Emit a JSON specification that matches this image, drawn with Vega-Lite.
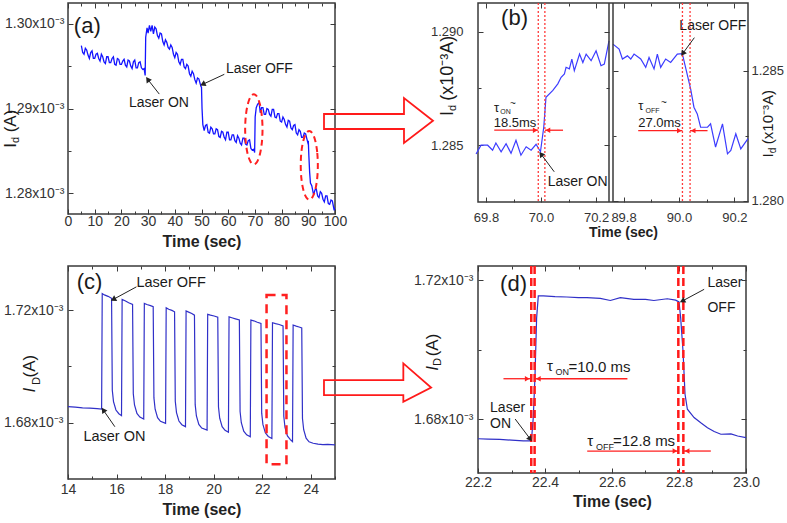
{
"$schema": "https://vega.github.io/schema/vega-lite/v6.json",
"padding": 0,
"background": "white",
"config": {
  "view": {"stroke": "#3a3a3a", "strokeWidth": 1.5},
  "axis": {"domain": false, "grid": false, "labelFont": "Liberation Sans", "labelFontSize": 14, "labelColor": "#333333", "titleFont": "Liberation Sans", "titleFontSize": 16, "titleFontWeight": "bold", "titleColor": "#222222", "tickColor": "#3a3a3a", "tickWidth": 1, "labelFlush": false, "labelOverlap": false},
  "text": {"font": "Liberation Sans"}
},
"datasets": {
  "A": [{"t":5,"v":1.2974},{"t":5.5,"v":1.2966},{"t":6,"v":1.2964},{"t":6.5,"v":1.2971},{"t":7,"v":1.2969},{"t":7.5,"v":1.2963},{"t":8,"v":1.2959},{"t":8.5,"v":1.2966},{"t":9,"v":1.2968},{"t":9.5,"v":1.2959},{"t":10,"v":1.2959},{"t":10.5,"v":1.2964},{"t":11,"v":1.2965},{"t":11.5,"v":1.2959},{"t":12,"v":1.2956},{"t":12.5,"v":1.2964},{"t":13,"v":1.2961},{"t":13.5,"v":1.2955},{"t":14,"v":1.2953},{"t":14.5,"v":1.2961},{"t":15,"v":1.2961},{"t":15.5,"v":1.2954},{"t":16,"v":1.2954},{"t":16.5,"v":1.2959},{"t":17,"v":1.2961},{"t":17.5,"v":1.2952},{"t":18,"v":1.2951},{"t":18.5,"v":1.2959},{"t":19,"v":1.2958},{"t":19.5,"v":1.2952},{"t":20,"v":1.2952},{"t":20.5,"v":1.2956},{"t":21,"v":1.2958},{"t":21.5,"v":1.2951},{"t":22,"v":1.2949},{"t":22.5,"v":1.2957},{"t":23,"v":1.2956},{"t":23.5,"v":1.295},{"t":24,"v":1.2947},{"t":24.5,"v":1.2955},{"t":25,"v":1.2957},{"t":25.5,"v":1.2948},{"t":26,"v":1.2948},{"t":26.5,"v":1.2954},{"t":27,"v":1.2955},{"t":27.5,"v":1.2948},{"t":28,"v":1.2946},{"t":28.5,"v":1.2947},{"t":28.9,"v":1.2939},{"t":29.1,"v":1.2984},{"t":29.6,"v":1.2995},{"t":30,"v":1.2989},{"t":30.5,"v":1.2998},{"t":31,"v":1.2991},{"t":31.5,"v":1.2998},{"t":32,"v":1.2988},{"t":32.5,"v":1.2996},{"t":33,"v":1.2994},{"t":33.5,"v":1.2986},{"t":34,"v":1.2983},{"t":34.5,"v":1.2989},{"t":35,"v":1.2988},{"t":35.5,"v":1.2979},{"t":36,"v":1.2975},{"t":36.5,"v":1.2981},{"t":37,"v":1.2978},{"t":37.5,"v":1.2972},{"t":38,"v":1.297},{"t":38.5,"v":1.2975},{"t":39,"v":1.2972},{"t":39.5,"v":1.2964},{"t":40,"v":1.296},{"t":40.5,"v":1.2966},{"t":41,"v":1.2964},{"t":41.5,"v":1.2955},{"t":42,"v":1.2952},{"t":42.5,"v":1.2958},{"t":43,"v":1.2958},{"t":43.5,"v":1.2949},{"t":44,"v":1.2947},{"t":44.5,"v":1.2952},{"t":45,"v":1.295},{"t":45.5,"v":1.2941},{"t":46,"v":1.2938},{"t":46.5,"v":1.2944},{"t":47,"v":1.2941},{"t":47.5,"v":1.2934},{"t":48,"v":1.293},{"t":48.5,"v":1.2936},{"t":49,"v":1.2935},{"t":49.8,"v":1.2926},{"t":50.0,"v":1.2925},{"t":50.2,"v":1.29},{"t":50.5,"v":1.2881},{"t":51,"v":1.2874},{"t":51.5,"v":1.288},{"t":52,"v":1.2881},{"t":52.5,"v":1.2872},{"t":53,"v":1.2871},{"t":53.5,"v":1.2878},{"t":54,"v":1.2876},{"t":54.5,"v":1.287},{"t":55,"v":1.287},{"t":55.5,"v":1.2876},{"t":56,"v":1.2875},{"t":56.5,"v":1.2867},{"t":57,"v":1.2866},{"t":57.5,"v":1.2873},{"t":58,"v":1.2872},{"t":58.5,"v":1.2866},{"t":59,"v":1.2863},{"t":59.5,"v":1.2872},{"t":60,"v":1.2872},{"t":60.5,"v":1.2863},{"t":61,"v":1.2863},{"t":61.5,"v":1.2869},{"t":62,"v":1.2869},{"t":62.5,"v":1.2862},{"t":63,"v":1.286},{"t":63.5,"v":1.2868},{"t":64,"v":1.2865},{"t":64.5,"v":1.2859},{"t":65,"v":1.2857},{"t":65.5,"v":1.2865},{"t":66,"v":1.2865},{"t":66.5,"v":1.2858},{"t":67,"v":1.2857},{"t":67.5,"v":1.2862},{"t":68,"v":1.2863},{"t":68.5,"v":1.2853},{"t":69,"v":1.2851},{"t":69.6,"v":1.2852},{"t":69.9,"v":1.2848},{"t":70.1,"v":1.289},{"t":70.5,"v":1.2901},{"t":71.0,"v":1.2905},{"t":71.6,"v":1.2907},{"t":72,"v":1.2895},{"t":72.5,"v":1.2901},{"t":73,"v":1.2901},{"t":73.5,"v":1.2893},{"t":74,"v":1.2893},{"t":74.5,"v":1.29},{"t":75,"v":1.2899},{"t":75.5,"v":1.2893},{"t":76,"v":1.2891},{"t":76.5,"v":1.2899},{"t":77,"v":1.2899},{"t":77.5,"v":1.289},{"t":78,"v":1.2889},{"t":78.5,"v":1.2894},{"t":79,"v":1.2894},{"t":79.5,"v":1.2885},{"t":80,"v":1.2884},{"t":80.5,"v":1.289},{"t":81,"v":1.2887},{"t":81.5,"v":1.2881},{"t":82,"v":1.2878},{"t":82.5,"v":1.2886},{"t":83,"v":1.2885},{"t":83.5,"v":1.2877},{"t":84,"v":1.2875},{"t":84.5,"v":1.288},{"t":85,"v":1.2881},{"t":85.5,"v":1.2871},{"t":86,"v":1.2869},{"t":86.5,"v":1.2875},{"t":87,"v":1.2873},{"t":87.5,"v":1.2866},{"t":88,"v":1.2866},{"t":88.5,"v":1.2871},{"t":89,"v":1.287},{"t":89.8,"v":1.286},{"t":90.0,"v":1.2862},{"t":90.2,"v":1.2845},{"t":90.5,"v":1.2825},{"t":90.8,"v":1.2812},{"t":91.3,"v":1.2809},{"t":92,"v":1.2798},{"t":92.5,"v":1.2804},{"t":93,"v":1.2805},{"t":93.5,"v":1.2797},{"t":94,"v":1.2795},{"t":94.5,"v":1.2802},{"t":95,"v":1.28},{"t":95.5,"v":1.2793},{"t":96,"v":1.279},{"t":96.5,"v":1.2797},{"t":97,"v":1.2797},{"t":97.5,"v":1.2788},{"t":98,"v":1.2787},{"t":98.5,"v":1.2792},{"t":99,"v":1.2791},{"t":99.7,"v":1.278},{"t":100,"v":1.2783}],
  "A_txt": [{"t":2.2,"v":1.29973,"label":"(a)","fs":22},{"t":22.85,"v":1.29068,"label":"Laser ON","fs":14},{"t":59.18,"v":1.29462,"label":"Laser OFF","fs":14}],
  "A_arr": [{"t":34.19,"v":1.2917,"t2":29.85,"v2":1.29344,"ang":325.2},{"t":58.54,"v":1.29403,"t2":50.45,"v2":1.29285,"ang":245.2}],
  "A_ttl": [{"t":-21.35,"v":1.28853,"label":"(A)","fs":17},{"t":-19.48,"v":1.28629,"label":"d","fs":11},{"t":-21.35,"v":1.28565,"label":"I","fs":17}],
  "A_ell": [{"id":1,"k":0,"t":72.85,"v":1.28755},{"id":1,"k":1,"t":72.6,"v":1.28913},{"id":1,"k":2,"t":71.9,"v":1.29047},{"id":1,"k":3,"t":70.85,"v":1.29137},{"id":1,"k":4,"t":69.6,"v":1.29168},{"id":1,"k":5,"t":68.36,"v":1.29137},{"id":1,"k":6,"t":67.3,"v":1.29047},{"id":1,"k":7,"t":66.6,"v":1.28913},{"id":1,"k":8,"t":66.35,"v":1.28755},{"id":1,"k":9,"t":66.6,"v":1.28597},{"id":1,"k":10,"t":67.3,"v":1.28463},{"id":1,"k":11,"t":68.36,"v":1.28373},{"id":1,"k":12,"t":69.6,"v":1.28342},{"id":1,"k":13,"t":70.85,"v":1.28373},{"id":1,"k":14,"t":71.9,"v":1.28463},{"id":1,"k":15,"t":72.6,"v":1.28597},
    {"id":2,"k":0,"t":93.57,"v":1.28331},{"id":2,"k":1,"t":93.33,"v":1.28486},{"id":2,"k":2,"t":92.63,"v":1.28617},{"id":2,"k":3,"t":91.6,"v":1.28705},{"id":2,"k":4,"t":90.37,"v":1.28736},{"id":2,"k":5,"t":89.14,"v":1.28705},{"id":2,"k":6,"t":88.11,"v":1.28617},{"id":2,"k":7,"t":87.41,"v":1.28486},{"id":2,"k":8,"t":87.17,"v":1.28331},{"id":2,"k":9,"t":87.41,"v":1.28176},{"id":2,"k":10,"t":88.11,"v":1.28045},{"id":2,"k":11,"t":89.14,"v":1.27957},{"id":2,"k":12,"t":90.37,"v":1.27926},{"id":2,"k":13,"t":91.6,"v":1.27957},{"id":2,"k":14,"t":92.63,"v":1.28045},{"id":2,"k":15,"t":93.33,"v":1.28176}],
  "A_big": [{"k":0,"t":95.88,"v":1.28935},{"k":1,"t":125.84,"v":1.28935},{"k":2,"t":125.84,"v":1.29124},{"k":3,"t":136.7,"v":1.28855},{"k":4,"t":125.84,"v":1.28593},{"k":5,"t":125.84,"v":1.28758},{"k":6,"t":95.88,"v":1.28758}],
  "BL": [{"t":69.764,"v":1.28461},{"t":69.782,"v":1.285},{"t":69.806,"v":1.285},{"t":69.824,"v":1.28478},{"t":69.836,"v":1.2851},{"t":69.855,"v":1.28471},{"t":69.873,"v":1.28507},{"t":69.891,"v":1.28464},{"t":69.909,"v":1.28522},{"t":69.927,"v":1.28456},{"t":69.946,"v":1.28493},{"t":69.964,"v":1.28478},{"t":69.982,"v":1.28504},{"t":69.998,"v":1.28471},{"t":70.01,"v":1.2858},{"t":70.018,"v":1.28711},{"t":70.043,"v":1.28741},{"t":70.061,"v":1.2877},{"t":70.073,"v":1.28799},{"t":70.085,"v":1.28814},{"t":70.091,"v":1.28843},{"t":70.103,"v":1.28836},{"t":70.112,"v":1.28879},{"t":70.121,"v":1.28828},{"t":70.14,"v":1.28901},{"t":70.152,"v":1.28864},{"t":70.164,"v":1.28901},{"t":70.182,"v":1.28872},{"t":70.2,"v":1.28916},{"t":70.218,"v":1.2885},{"t":70.23,"v":1.28857},{"t":70.247,"v":1.28959}],
  "BL_txt": [{"t":69.855,"v":1.29061,"label":"(b)","fs":22},{"t":70.024,"v":1.2834,"label":"Laser ON","fs":14},{"t":69.829,"v":1.28664,"label":"τ","fs":13},{"t":69.852,"v":1.28645,"label":"ON","fs":7},{"t":69.887,"v":1.28683,"label":"~","fs":10},{"t":69.828,"v":1.28596,"label":"18.5ms","fs":13}],
  "BL_ttl": [{"t":69.661,"v":1.28839,"label":"(x10⁻³A)","fs":18},{"t":69.661,"v":1.2864,"label":"I","fs":18},{"t":69.68,"v":1.28664,"label":"d","fs":11}],
  "BL_arr": [{"t":70.048,"v":1.28383,"t2":70.0,"v2":1.28461,"ang":323.1}],
  "BL_red": [{"t":69.83,"t2":69.99,"v":1.28566},{"t":70.08,"t2":70.014,"v":1.28566}],
  "BL_tri": [{"t":69.979,"v":1.28566,"sh":"triangle-right"},{"t":70.025,"v":1.28566,"sh":"triangle-left"}],
  "BL_vl": [{"t":69.99},{"t":70.014}],
  "BR": [{"t":89.762,"v":1.28602},{"t":89.784,"v":1.28583},{"t":89.796,"v":1.28545},{"t":89.814,"v":1.28557},{"t":89.826,"v":1.28545},{"t":89.838,"v":1.28564},{"t":89.862,"v":1.28545},{"t":89.88,"v":1.28513},{"t":89.892,"v":1.28551},{"t":89.91,"v":1.28507},{"t":89.922,"v":1.28564},{"t":89.934,"v":1.28513},{"t":89.952,"v":1.28545},{"t":89.97,"v":1.28532},{"t":89.994,"v":1.28564},{"t":90.012,"v":1.28566},{"t":90.042,"v":1.2843},{"t":90.054,"v":1.2836},{"t":90.066,"v":1.28334},{"t":90.078,"v":1.28283},{"t":90.103,"v":1.28283},{"t":90.114,"v":1.28296},{"t":90.132,"v":1.28207},{"t":90.157,"v":1.28296},{"t":90.175,"v":1.28181},{"t":90.187,"v":1.28194},{"t":90.205,"v":1.28258},{"t":90.223,"v":1.282},{"t":90.249,"v":1.28239}],
  "BR_txt": [{"t":90.0014,"v":1.28672,"label":"Laser OFF","fs":14},{"t":89.853,"v":1.28363,"label":"τ","fs":13},{"t":89.879,"v":1.28347,"label":"OFF","fs":7},{"t":89.935,"v":1.28378,"label":"~","fs":10},{"t":89.853,"v":1.283,"label":"27.0ms","fs":13}],
  "BR_ttl": [{"t":90.3216,"v":1.28322,"label":"(x10⁻³A)","fs":15},{"t":90.3216,"v":1.28175,"label":"I","fs":15},{"t":90.34,"v":1.28194,"label":"d","fs":10}],
  "BR_arr": [{"t":90.0555,"v":1.28627,"t2":90.0136,"v2":1.28566,"ang":216}],
  "BR_red": [{"t":89.853,"t2":90.0125,"v":1.2827},{"t":90.103,"t2":90.04,"v":1.2827}],
  "BR_tri": [{"t":90.0015,"v":1.2827,"sh":"triangle-right"},{"t":90.051,"v":1.2827,"sh":"triangle-left"}],
  "BR_vl": [{"t":90.0125},{"t":90.04}],
  "C": [{"t":14.0,"v":1.6857},{"t":14.3,"v":1.6855},{"t":14.6,"v":1.6853},{"t":14.9,"v":1.6852},{"t":15.2,"v":1.685},{"t":15.385,"v":1.6848},
    {"t":15.41,"v":1.7259},{"t":15.5,"v":1.7254},{"t":15.65,"v":1.7249},{"t":15.795,"v":1.7242},{"t":15.825,"v":1.6915},{"t":15.875,"v":1.6875},{"t":15.975,"v":1.6845},{"t":16.095,"v":1.6832},{"t":16.205,"v":1.6825},
    {"t":16.23,"v":1.7238},{"t":16.35,"v":1.7233},{"t":16.5,"v":1.7226},{"t":16.66,"v":1.722},{"t":16.69,"v":1.6903},{"t":16.74,"v":1.6863},{"t":16.84,"v":1.6833},{"t":16.96,"v":1.682},{"t":17.12,"v":1.6813},
    {"t":17.145,"v":1.7224},{"t":17.25,"v":1.722},{"t":17.4,"v":1.7216},{"t":17.51,"v":1.7212},{"t":17.54,"v":1.6888},{"t":17.59,"v":1.6848},{"t":17.69,"v":1.6818},{"t":17.81,"v":1.6805},{"t":18.02,"v":1.6798},
    {"t":18.045,"v":1.7208},{"t":18.15,"v":1.7203},{"t":18.28,"v":1.7199},{"t":18.39,"v":1.7194},{"t":18.42,"v":1.6876},{"t":18.47,"v":1.6836},{"t":18.57,"v":1.6806},{"t":18.69,"v":1.6793},{"t":18.84,"v":1.6786},
    {"t":18.865,"v":1.7197},{"t":18.97,"v":1.7193},{"t":19.1,"v":1.7188},{"t":19.21,"v":1.7182},{"t":19.24,"v":1.6864},{"t":19.29,"v":1.6824},{"t":19.39,"v":1.6794},{"t":19.51,"v":1.6781},{"t":19.73,"v":1.6774},
    {"t":19.755,"v":1.7185},{"t":19.87,"v":1.7182},{"t":20.02,"v":1.7179},{"t":20.17,"v":1.7175},{"t":20.2,"v":1.6856},{"t":20.25,"v":1.6816},{"t":20.35,"v":1.6786},{"t":20.47,"v":1.6773},{"t":20.61,"v":1.6766},
    {"t":20.635,"v":1.7176},{"t":20.75,"v":1.7173},{"t":20.9,"v":1.7169},{"t":21.06,"v":1.7165},{"t":21.09,"v":1.684},{"t":21.14,"v":1.68},{"t":21.24,"v":1.677},{"t":21.36,"v":1.6757},{"t":21.51,"v":1.675},
    {"t":21.535,"v":1.7165},{"t":21.65,"v":1.7162},{"t":21.8,"v":1.7157},{"t":21.95,"v":1.7153},{"t":21.98,"v":1.6834},{"t":22.03,"v":1.6794},{"t":22.13,"v":1.6764},{"t":22.25,"v":1.6751},{"t":22.4,"v":1.6744},
    {"t":22.425,"v":1.7155},{"t":22.55,"v":1.7152},{"t":22.7,"v":1.7149},{"t":22.86,"v":1.7144},{"t":22.89,"v":1.6823},{"t":22.94,"v":1.6783},{"t":23.04,"v":1.6753},{"t":23.16,"v":1.674},{"t":23.25,"v":1.6733},
    {"t":23.275,"v":1.7147},{"t":23.4,"v":1.7143},{"t":23.52,"v":1.714},{"t":23.63,"v":1.7137},{"t":23.66,"v":1.6815},{"t":23.71,"v":1.6775},{"t":23.81,"v":1.6745},{"t":23.93,"v":1.6732},{"t":24.1,"v":1.6727},{"t":24.3,"v":1.6724},{"t":24.5,"v":1.6722},{"t":24.7,"v":1.6723},{"t":25.0,"v":1.6721}],
  "C_txt": [{"t":14.359,"v":1.73005,"label":"(c)","fs":22},{"t":16.82,"v":1.72948,"label":"Laser OFF","fs":14.5},{"t":14.634,"v":1.67502,"label":"Laser ON","fs":14.5}],
  "C_arr": [{"t":15.93,"v":1.67857,"t2":15.454,"v2":1.6845,"ang":325.2},{"t":16.82,"v":1.72827,"t2":15.865,"v2":1.7238,"ang":241.6}],
  "C_rect": [{"t":22.18,"t2":23.0,"v":1.66522,"v2":1.72533}],
  "C_big": [{"k":0,"t":24.546,"v":1.69515},{"k":1,"t":27.815,"v":1.69515},{"k":2,"t":27.815,"v":1.70108},{"k":3,"t":28.96,"v":1.69249},{"k":4,"t":27.815,"v":1.68745},{"k":5,"t":27.815,"v":1.68983},{"k":6,"t":24.546,"v":1.68983}],
  "C_ttl": [{"t":12.443,"v":1.70012,"label":"(A)","fs":17,"it":0},{"t":12.72,"v":1.6948,"label":"D","fs":11,"it":0},{"t":12.443,"v":1.6916,"label":"I","fs":17,"it":1}],
  "D": [{"t":22.2,"v":1.6744},{"t":22.23,"v":1.6743},{"t":22.265,"v":1.6742},{"t":22.3,"v":1.674},{"t":22.335,"v":1.6738},{"t":22.355,"v":1.6738},{"t":22.36,"v":1.6745},{"t":22.365,"v":1.6805},{"t":22.37,"v":1.692},{"t":22.375,"v":1.7092},{"t":22.38,"v":1.7155},{"t":22.395,"v":1.7155},{"t":22.43,"v":1.7153},{"t":22.465,"v":1.7152},{"t":22.5,"v":1.715},{"t":22.525,"v":1.715},{"t":22.565,"v":1.7148},{"t":22.595,"v":1.7142},{"t":22.625,"v":1.715},{"t":22.665,"v":1.7145},{"t":22.7,"v":1.7145},{"t":22.725,"v":1.7142},{"t":22.765,"v":1.7147},{"t":22.79,"v":1.7143},{"t":22.8,"v":1.7138},{"t":22.805,"v":1.7092},{"t":22.812,"v":1.6996},{"t":22.818,"v":1.6872},{"t":22.825,"v":1.6829},{"t":22.845,"v":1.6805},{"t":22.865,"v":1.679},{"t":22.885,"v":1.6776},{"t":22.905,"v":1.6765},{"t":22.925,"v":1.6757},{"t":22.955,"v":1.6758},{"t":22.975,"v":1.6752},{"t":23.0,"v":1.6747}],
  "D_txt": [{"t":22.266,"v":1.71885,"label":"(d)","fs":22},{"t":22.236,"v":1.68333,"label":"Laser","fs":14},{"t":22.236,"v":1.67856,"label":"ON","fs":14},{"t":22.885,"v":1.71931,"label":"Laser","fs":14},{"t":22.885,"v":1.71211,"label":"OFF","fs":14},{"t":22.406,"v":1.69534,"label":"τ","fs":15},{"t":22.431,"v":1.69361,"label":"ON","fs":9},{"t":22.47,"v":1.69505,"label":"=10.0 ms","fs":15},{"t":22.526,"v":1.67375,"label":"τ","fs":15},{"t":22.552,"v":1.67202,"label":"OFF","fs":9},{"t":22.603,"v":1.67375,"label":"=12.8 ms","fs":15}],
  "D_arr": [{"t":22.311,"v":1.68008,"t2":22.356,"v2":1.67432,"ang":143.1},{"t":22.875,"v":1.71741,"t2":22.81,"v2":1.71404,"ang":241.6}],
  "D_red": [{"t":22.276,"t2":22.356,"v":1.69168},{"t":22.646,"t2":22.371,"v":1.69168},{"t":22.526,"t2":22.797,"v":1.67087},{"t":22.895,"t2":22.815,"v":1.67087}],
  "D_tri": [{"t":22.347,"v":1.69168,"sh":"triangle-right"},{"t":22.38,"v":1.69168,"sh":"triangle-left"},{"t":22.788,"v":1.67087,"sh":"triangle-right"},{"t":22.824,"v":1.67087,"sh":"triangle-left"}],
  "D_vl": [{"t":22.359},{"t":22.369},{"t":22.798},{"t":22.813}],
  "D_ttl": [{"t":22.065,"v":1.70138,"label":"(A)","fs":17,"it":0},{"t":22.081,"v":1.69649,"label":"D","fs":11,"it":0},{"t":22.065,"v":1.69462,"label":"I","fs":17,"it":1}]
},
"columns": 3,
"align": "none",
"bounds": "flush",
"spacing": {"row": 52, "column": 4},
"concat": [
  {"width": 267, "height": 211,
   "resolve": {"axis": {"x": "independent", "y": "independent"}},
   "layer": [
    {"data": {"name": "A"}, "mark": {"type": "line", "color": "#1414ff", "strokeWidth": 1.3, "clip": true},
     "encoding": {
      "x": {"field": "t", "type": "quantitative", "scale": {"domain": [0, 100], "nice": false, "zero": false}, "axis": {"orient": "bottom", "values": [0,10,20,30,40,50,60,70,80,90,100], "tickSize": -5, "labelPadding": 5.5, "title": "Time (sec)", "titlePadding": 5}},
      "y": {"field": "v", "type": "quantitative", "scale": {"domain": [1.27756, 1.30244], "nice": false, "zero": false}, "axis": {"orient": "left", "values": [1.28, 1.29, 1.3], "tickSize": -5, "labelPadding": 9, "labelExpr": "format(datum.value,'.2f')+'x10⁻³'", "title": null}}}},
    {"data": {"name": "A_txt"}, "mark": {"type": "text", "align": "left", "baseline": "middle", "color": "#1a1a1a"},
     "encoding": {
      "x": {"field": "t", "type": "quantitative", "scale": {"domain": [0, 100], "nice": false, "zero": false}, "axis": {"orient": "top", "values": [0,10,20,30,40,50,60,70,80,90,100], "tickSize": -5, "labels": false, "title": null}},
      "y": {"field": "v", "type": "quantitative", "scale": {"domain": [1.27756, 1.30244], "nice": false, "zero": false}, "axis": {"orient": "right", "values": [1.28, 1.29, 1.3], "tickSize": -5, "labels": false, "title": null}},
      "text": {"field": "label", "type": "nominal"},
      "size": {"field": "fs", "type": "quantitative", "scale": null}}},
    {"data": {"name": "A_ell"}, "mark": {"type": "line", "interpolate": "cardinal-closed", "color": "#ff2020", "strokeWidth": 2, "strokeDash": [6, 4], "clip": false},
     "encoding": {
      "x": {"field": "t", "type": "quantitative", "scale": {"domain": [0, 100], "nice": false, "zero": false}, "axis": {"orient": "bottom", "values": [5,15,25,35,45,55,65,75,85,95], "tickSize": -3, "labels": false, "title": null}},
      "y": {"field": "v", "type": "quantitative", "scale": {"domain": [1.27756, 1.30244], "nice": false, "zero": false}, "axis": {"orient": "left", "values": [1.285, 1.295], "tickSize": -3, "labels": false, "title": null}},
      "detail": {"field": "id", "type": "nominal"},
      "order": {"field": "k", "type": "quantitative"}}},
    {"data": {"name": "A_big"}, "mark": {"type": "line", "interpolate": "linear-closed", "color": "#ff1a1a", "strokeWidth": 1.8, "clip": false},
     "encoding": {
      "x": {"field": "t", "type": "quantitative", "scale": {"domain": [0, 100], "nice": false, "zero": false}, "axis": {"orient": "top", "values": [5,15,25,35,45,55,65,75,85,95], "tickSize": -3, "labels": false, "title": null}},
      "y": {"field": "v", "type": "quantitative", "scale": {"domain": [1.27756, 1.30244], "nice": false, "zero": false}, "axis": {"orient": "right", "values": [1.285, 1.295], "tickSize": -3, "labels": false, "title": null}},
      "order": {"field": "k", "type": "quantitative"}}},
    {"data": {"name": "A_arr"}, "mark": {"type": "rule", "color": "#222222", "strokeWidth": 1},
     "encoding": {
      "x": {"field": "t", "type": "quantitative", "scale": {"domain": [0, 100], "nice": false, "zero": false}, "axis": null},
      "y": {"field": "v", "type": "quantitative", "scale": {"domain": [1.27756, 1.30244], "nice": false, "zero": false}, "axis": null},
      "x2": {"field": "t2"}, "y2": {"field": "v2"}}},
    {"data": {"name": "A_arr"}, "mark": {"type": "point", "shape": "triangle-up", "filled": true, "size": 40, "color": "#222222", "opacity": 1},
     "encoding": {
      "x": {"field": "t2", "type": "quantitative", "scale": {"domain": [0, 100], "nice": false, "zero": false}, "axis": null},
      "y": {"field": "v2", "type": "quantitative", "scale": {"domain": [1.27756, 1.30244], "nice": false, "zero": false}, "axis": null},
      "angle": {"field": "ang", "type": "quantitative", "scale": null}}},
    {"data": {"name": "A_ttl"}, "mark": {"type": "text", "align": "center", "baseline": "middle", "angle": 270, "color": "#1a1a1a"},
     "encoding": {
      "x": {"field": "t", "type": "quantitative", "scale": {"domain": [0, 100], "nice": false, "zero": false}, "axis": null},
      "y": {"field": "v", "type": "quantitative", "scale": {"domain": [1.27756, 1.30244], "nice": false, "zero": false}, "axis": null},
      "text": {"field": "label", "type": "nominal"},
      "size": {"field": "fs", "type": "quantitative", "scale": null}}},
    {"data": {"values": [{"t": -24.91, "v": 1.30262}]}, "mark": {"type": "point", "size": 1, "filled": true, "opacity": 0},
     "encoding": {
      "x": {"field": "t", "type": "quantitative", "scale": {"domain": [0, 100], "nice": false, "zero": false}, "axis": null},
      "y": {"field": "v", "type": "quantitative", "scale": {"domain": [1.27756, 1.30244], "nice": false, "zero": false}, "axis": null}}}
   ]},
  {"width": 135, "height": 20, "view": {"stroke": null}, "data": {"values": [{"a": 1}]}, "mark": {"type": "point", "opacity": 0}, "encoding": {}},
  {"width": 270, "height": 199,
   "resolve": {"scale": {"x": "independent", "y": "independent"}, "axis": {"x": "independent", "y": "independent"}},
   "layer": [
    {"resolve": {"axis": {"x": "independent", "y": "independent"}},
     "layer": [
     {"data": {"name": "BL"}, "mark": {"type": "line", "color": "#3c3cff", "strokeWidth": 1.2, "clip": false},
      "encoding": {
       "x": {"field": "t", "type": "quantitative", "scale": {"domain": [69.771, 70.247], "range": [0, 131], "nice": false, "zero": false}, "axis": {"orient": "bottom", "values": [69.8, 70.0, 70.2], "format": ".1f", "tickSize": -5, "labelPadding": 14, "labelFontSize": 13, "title": "Time (sec)", "titleFontSize": 14, "titleX": 145, "titlePadding": 1}},
       "y": {"field": "v", "type": "quantitative", "scale": {"domain": [1.2825, 1.29126], "nice": false, "zero": false}, "axis": {"orient": "left", "values": [1.285, 1.29], "format": ".3f", "tickSize": -5, "labelPadding": 20, "labelFontSize": 13, "title": null}}}},
     {"data": {"name": "BL_txt"}, "mark": {"type": "text", "align": "left", "baseline": "middle", "color": "#1a1a1a"},
      "encoding": {
       "x": {"field": "t", "type": "quantitative", "scale": {"domain": [69.771, 70.247], "range": [0, 131], "nice": false, "zero": false}, "axis": {"orient": "top", "values": [69.8, 70.0, 70.2], "tickSize": -5, "labels": false, "title": null}},
       "y": {"field": "v", "type": "quantitative", "scale": {"domain": [1.2825, 1.29126], "nice": false, "zero": false}, "axis": {"orient": "right", "offset": -139, "values": [1.285, 1.29], "tickSize": -5, "labels": false, "title": null}},
       "text": {"field": "label", "type": "nominal"},
       "size": {"field": "fs", "type": "quantitative", "scale": null}}},
     {"data": {"name": "BL_red"}, "mark": {"type": "rule", "color": "#ff2020", "strokeWidth": 1.3},
      "encoding": {
       "x": {"field": "t", "type": "quantitative", "scale": {"domain": [69.771, 70.247], "range": [0, 131], "nice": false, "zero": false}, "axis": {"orient": "bottom", "values": [69.9, 70.1], "tickSize": -3, "labels": false, "title": null}},
       "x2": {"field": "t2"},
       "y": {"field": "v", "type": "quantitative", "scale": {"domain": [1.2825, 1.29126], "nice": false, "zero": false}, "axis": {"orient": "left", "values": [1.2875], "tickSize": -3, "labels": false, "title": null}}}},
     {"data": {"name": "BL_tri"}, "mark": {"type": "point", "filled": true, "size": 30, "color": "#ff2020", "opacity": 1},
      "encoding": {
       "x": {"field": "t", "type": "quantitative", "scale": {"domain": [69.771, 70.247], "range": [0, 131], "nice": false, "zero": false}, "axis": {"orient": "top", "values": [69.9, 70.1], "tickSize": -3, "labels": false, "title": null}},
       "y": {"field": "v", "type": "quantitative", "scale": {"domain": [1.2825, 1.29126], "nice": false, "zero": false}, "axis": {"orient": "right", "offset": -139, "values": [1.2875], "tickSize": -3, "labels": false, "title": null}},
       "shape": {"field": "sh", "type": "nominal", "scale": null}}},
     {"data": {"name": "BL_vl"}, "mark": {"type": "rule", "color": "#ff3b3b", "strokeWidth": 1.3, "strokeDash": [2, 2]},
      "encoding": {"x": {"field": "t", "type": "quantitative", "scale": {"domain": [69.771, 70.247], "range": [0, 131], "nice": false, "zero": false}, "axis": null}}},
     {"data": {"values": [{"t": 70.247}]}, "mark": {"type": "rule", "color": "#3a3a3a", "strokeWidth": 1.5},
      "encoding": {"x": {"field": "t", "type": "quantitative", "scale": {"domain": [69.771, 70.247], "range": [0, 131], "nice": false, "zero": false}, "axis": null}}},
     {"data": {"name": "BL_arr"}, "mark": {"type": "rule", "color": "#222222", "strokeWidth": 1},
      "encoding": {
       "x": {"field": "t", "type": "quantitative", "scale": {"domain": [69.771, 70.247], "range": [0, 131], "nice": false, "zero": false}, "axis": null},
       "y": {"field": "v", "type": "quantitative", "scale": {"domain": [1.2825, 1.29126], "nice": false, "zero": false}, "axis": null},
       "x2": {"field": "t2"}, "y2": {"field": "v2"}}},
     {"data": {"name": "BL_arr"}, "mark": {"type": "point", "shape": "triangle-up", "filled": true, "size": 40, "color": "#222222", "opacity": 1},
      "encoding": {
       "x": {"field": "t2", "type": "quantitative", "scale": {"domain": [69.771, 70.247], "range": [0, 131], "nice": false, "zero": false}, "axis": null},
       "y": {"field": "v2", "type": "quantitative", "scale": {"domain": [1.2825, 1.29126], "nice": false, "zero": false}, "axis": null},
       "angle": {"field": "ang", "type": "quantitative", "scale": null}}},
     {"data": {"name": "BL_ttl"}, "mark": {"type": "text", "align": "center", "baseline": "middle", "angle": 270, "color": "#1a1a1a"},
      "encoding": {
       "x": {"field": "t", "type": "quantitative", "scale": {"domain": [69.771, 70.247], "range": [0, 131], "nice": false, "zero": false}, "axis": null},
       "y": {"field": "v", "type": "quantitative", "scale": {"domain": [1.2825, 1.29126], "nice": false, "zero": false}, "axis": null},
       "text": {"field": "label", "type": "nominal"},
       "size": {"field": "fs", "type": "quantitative", "scale": null}}}
     ]},
    {"resolve": {"axis": {"x": "independent", "y": "independent"}},
     "layer": [
     {"data": {"name": "BR"}, "mark": {"type": "line", "color": "#3c3cff", "strokeWidth": 1.2, "clip": false},
      "encoding": {
       "x": {"field": "t", "type": "quantitative", "scale": {"domain": [89.762, 90.249], "range": [135, 270], "nice": false, "zero": false}, "axis": {"orient": "bottom", "values": [89.8, 90.0, 90.2], "format": ".1f", "tickSize": -5, "labelPadding": 14, "labelFontSize": 13, "title": null}},
       "y": {"field": "v", "type": "quantitative", "scale": {"domain": [1.27996, 1.2876], "nice": false, "zero": false}, "axis": {"orient": "right", "values": [1.28, 1.285], "format": ".3f", "tickSize": -5, "labelPadding": 8, "labelFontSize": 13, "title": null}}}},
     {"data": {"name": "BR_txt"}, "mark": {"type": "text", "align": "left", "baseline": "middle", "color": "#1a1a1a"},
      "encoding": {
       "x": {"field": "t", "type": "quantitative", "scale": {"domain": [89.762, 90.249], "range": [135, 270], "nice": false, "zero": false}, "axis": {"orient": "top", "values": [89.8, 90.0, 90.2], "tickSize": -5, "labels": false, "title": null}},
       "y": {"field": "v", "type": "quantitative", "scale": {"domain": [1.27996, 1.2876], "nice": false, "zero": false}, "axis": {"orient": "left", "offset": -135, "values": [1.28, 1.285], "tickSize": -5, "labels": false, "title": null}},
       "text": {"field": "label", "type": "nominal"},
       "size": {"field": "fs", "type": "quantitative", "scale": null}}},
     {"data": {"name": "BR_red"}, "mark": {"type": "rule", "color": "#ff2020", "strokeWidth": 1.3},
      "encoding": {
       "x": {"field": "t", "type": "quantitative", "scale": {"domain": [89.762, 90.249], "range": [135, 270], "nice": false, "zero": false}, "axis": {"orient": "bottom", "values": [89.9, 90.1], "tickSize": -3, "labels": false, "title": null}},
       "x2": {"field": "t2"},
       "y": {"field": "v", "type": "quantitative", "scale": {"domain": [1.27996, 1.2876], "nice": false, "zero": false}, "axis": {"orient": "right", "values": [1.2825], "tickSize": -3, "labels": false, "title": null}}}},
     {"data": {"name": "BR_tri"}, "mark": {"type": "point", "filled": true, "size": 30, "color": "#ff2020", "opacity": 1},
      "encoding": {
       "x": {"field": "t", "type": "quantitative", "scale": {"domain": [89.762, 90.249], "range": [135, 270], "nice": false, "zero": false}, "axis": {"orient": "top", "values": [89.9, 90.1], "tickSize": -3, "labels": false, "title": null}},
       "y": {"field": "v", "type": "quantitative", "scale": {"domain": [1.27996, 1.2876], "nice": false, "zero": false}, "axis": {"orient": "left", "offset": -135, "values": [1.2825], "tickSize": -3, "labels": false, "title": null}},
       "shape": {"field": "sh", "type": "nominal", "scale": null}}},
     {"data": {"name": "BR_vl"}, "mark": {"type": "rule", "color": "#ff3b3b", "strokeWidth": 1.3, "strokeDash": [2, 2]},
      "encoding": {"x": {"field": "t", "type": "quantitative", "scale": {"domain": [89.762, 90.249], "range": [135, 270], "nice": false, "zero": false}, "axis": null}}},
     {"data": {"values": [{"t": 89.762}]}, "mark": {"type": "rule", "color": "#3a3a3a", "strokeWidth": 1.5},
      "encoding": {"x": {"field": "t", "type": "quantitative", "scale": {"domain": [89.762, 90.249], "range": [135, 270], "nice": false, "zero": false}, "axis": null}}},
     {"data": {"name": "BR_arr"}, "mark": {"type": "rule", "color": "#222222", "strokeWidth": 1},
      "encoding": {
       "x": {"field": "t", "type": "quantitative", "scale": {"domain": [89.762, 90.249], "range": [135, 270], "nice": false, "zero": false}, "axis": null},
       "y": {"field": "v", "type": "quantitative", "scale": {"domain": [1.27996, 1.2876], "nice": false, "zero": false}, "axis": null},
       "x2": {"field": "t2"}, "y2": {"field": "v2"}}},
     {"data": {"name": "BR_arr"}, "mark": {"type": "point", "shape": "triangle-up", "filled": true, "size": 40, "color": "#222222", "opacity": 1},
      "encoding": {
       "x": {"field": "t2", "type": "quantitative", "scale": {"domain": [89.762, 90.249], "range": [135, 270], "nice": false, "zero": false}, "axis": null},
       "y": {"field": "v2", "type": "quantitative", "scale": {"domain": [1.27996, 1.2876], "nice": false, "zero": false}, "axis": null},
       "angle": {"field": "ang", "type": "quantitative", "scale": null}}},
     {"data": {"name": "BR_ttl"}, "mark": {"type": "text", "align": "center", "baseline": "middle", "angle": 270, "color": "#1a1a1a"},
      "encoding": {
       "x": {"field": "t", "type": "quantitative", "scale": {"domain": [89.762, 90.249], "range": [135, 270], "nice": false, "zero": false}, "axis": null},
       "y": {"field": "v", "type": "quantitative", "scale": {"domain": [1.27996, 1.2876], "nice": false, "zero": false}, "axis": null},
       "text": {"field": "label", "type": "nominal"},
       "size": {"field": "fs", "type": "quantitative", "scale": null}}}
     ]}
   ]},
  {"width": 267, "height": 213,
   "resolve": {"axis": {"x": "independent", "y": "independent"}},
   "layer": [
    {"data": {"name": "C"}, "mark": {"type": "line", "color": "#3030c8", "strokeWidth": 1.2, "clip": true},
     "encoding": {
      "x": {"field": "t", "type": "quantitative", "scale": {"domain": [14, 25], "nice": false, "zero": false}, "axis": {"orient": "bottom", "values": [14,16,18,20,22,24], "tickSize": -5, "labelPadding": 8.5, "title": "Time (sec)", "titlePadding": 5}},
      "y": {"field": "v", "type": "quantitative", "scale": {"domain": [1.66, 1.73567], "nice": false, "zero": false}, "axis": {"orient": "left", "values": [1.68, 1.72], "tickSize": -5, "labelPadding": 10, "labelExpr": "format(datum.value,'.2f')+'x10⁻³'", "title": null}}}},
    {"data": {"name": "C_txt"}, "mark": {"type": "text", "align": "left", "baseline": "middle", "color": "#1a1a1a"},
     "encoding": {
      "x": {"field": "t", "type": "quantitative", "scale": {"domain": [14, 25], "nice": false, "zero": false}, "axis": {"orient": "top", "values": [14,16,18,20,22,24], "tickSize": -5, "labels": false, "title": null}},
      "y": {"field": "v", "type": "quantitative", "scale": {"domain": [1.66, 1.73567], "nice": false, "zero": false}, "axis": {"orient": "right", "values": [1.68, 1.72], "tickSize": -5, "labels": false, "title": null}},
      "text": {"field": "label", "type": "nominal"},
      "size": {"field": "fs", "type": "quantitative", "scale": null}}},
    {"data": {"name": "C_rect"}, "mark": {"type": "rect", "fill": null, "fillOpacity": 0, "stroke": "#ff2020", "strokeWidth": 2.5, "strokeDash": [9, 6]},
     "encoding": {
      "x": {"field": "t", "type": "quantitative", "scale": {"domain": [14, 25], "nice": false, "zero": false}, "axis": {"orient": "bottom", "values": [15,17,19,21,23,25], "tickSize": -3, "labels": false, "title": null}},
      "x2": {"field": "t2"},
      "y": {"field": "v", "type": "quantitative", "scale": {"domain": [1.66, 1.73567], "nice": false, "zero": false}, "axis": {"orient": "left", "values": [1.7], "tickSize": -3, "labels": false, "title": null}},
      "y2": {"field": "v2"}}},
    {"data": {"name": "C_big"}, "mark": {"type": "line", "interpolate": "linear-closed", "color": "#ff1a1a", "strokeWidth": 1.8, "clip": false},
     "encoding": {
      "x": {"field": "t", "type": "quantitative", "scale": {"domain": [14, 25], "nice": false, "zero": false}, "axis": {"orient": "top", "values": [15,17,19,21,23,25], "tickSize": -3, "labels": false, "title": null}},
      "y": {"field": "v", "type": "quantitative", "scale": {"domain": [1.66, 1.73567], "nice": false, "zero": false}, "axis": {"orient": "right", "values": [1.7], "tickSize": -3, "labels": false, "title": null}},
      "order": {"field": "k", "type": "quantitative"}}},
    {"data": {"name": "C_arr"}, "mark": {"type": "rule", "color": "#222222", "strokeWidth": 1},
     "encoding": {
      "x": {"field": "t", "type": "quantitative", "scale": {"domain": [14, 25], "nice": false, "zero": false}, "axis": null},
      "y": {"field": "v", "type": "quantitative", "scale": {"domain": [1.66, 1.73567], "nice": false, "zero": false}, "axis": null},
      "x2": {"field": "t2"}, "y2": {"field": "v2"}}},
    {"data": {"name": "C_arr"}, "mark": {"type": "point", "shape": "triangle-up", "filled": true, "size": 40, "color": "#222222", "opacity": 1},
     "encoding": {
      "x": {"field": "t2", "type": "quantitative", "scale": {"domain": [14, 25], "nice": false, "zero": false}, "axis": null},
      "y": {"field": "v2", "type": "quantitative", "scale": {"domain": [1.66, 1.73567], "nice": false, "zero": false}, "axis": null},
      "angle": {"field": "ang", "type": "quantitative", "scale": null}}},
    {"data": {"name": "C_ttl"}, "transform": [{"filter": "datum.it == 0"}], "mark": {"type": "text", "align": "center", "baseline": "middle", "angle": 270, "color": "#1a1a1a"},
     "encoding": {
      "x": {"field": "t", "type": "quantitative", "scale": {"domain": [14, 25], "nice": false, "zero": false}, "axis": null},
      "y": {"field": "v", "type": "quantitative", "scale": {"domain": [1.66, 1.73567], "nice": false, "zero": false}, "axis": null},
      "text": {"field": "label", "type": "nominal"},
      "size": {"field": "fs", "type": "quantitative", "scale": null}}},
    {"data": {"name": "C_ttl"}, "transform": [{"filter": "datum.it == 1"}], "mark": {"type": "text", "align": "center", "baseline": "middle", "angle": 270, "fontStyle": "italic", "color": "#1a1a1a"},
     "encoding": {
      "x": {"field": "t", "type": "quantitative", "scale": {"domain": [14, 25], "nice": false, "zero": false}, "axis": null},
      "y": {"field": "v", "type": "quantitative", "scale": {"domain": [1.66, 1.73567], "nice": false, "zero": false}, "axis": null},
      "text": {"field": "label", "type": "nominal"},
      "size": {"field": "fs", "type": "quantitative", "scale": null}}}
   ]},
  {"width": 135, "height": 20, "view": {"stroke": null}, "data": {"values": [{"a": 1}]}, "mark": {"type": "point", "opacity": 0}, "encoding": {}},
  {"width": 268, "height": 207,
   "resolve": {"axis": {"x": "independent", "y": "independent"}},
   "layer": [
    {"data": {"name": "D"}, "mark": {"type": "line", "color": "#3030c8", "strokeWidth": 1.2, "clip": true},
     "encoding": {
      "x": {"field": "t", "type": "quantitative", "scale": {"domain": [22.2, 23.0], "nice": false, "zero": false}, "axis": {"orient": "bottom", "values": [22.2, 22.4, 22.6, 22.8, 23.0], "format": ".1f", "tickSize": -5, "labelPadding": 7.5, "title": "Time (sec)", "titlePadding": 4}},
      "y": {"field": "v", "type": "quantitative", "scale": {"domain": [1.66455, 1.72412], "nice": false, "zero": false}, "axis": {"orient": "left", "values": [1.68, 1.72], "tickSize": -5, "labelPadding": 10, "labelExpr": "format(datum.value,'.2f')+'x10⁻³'", "title": null}}}},
    {"data": {"name": "D_txt"}, "mark": {"type": "text", "align": "left", "baseline": "middle", "color": "#1a1a1a"},
     "encoding": {
      "x": {"field": "t", "type": "quantitative", "scale": {"domain": [22.2, 23.0], "nice": false, "zero": false}, "axis": {"orient": "top", "values": [22.2, 22.4, 22.6, 22.8, 23.0], "tickSize": -5, "labels": false, "title": null}},
      "y": {"field": "v", "type": "quantitative", "scale": {"domain": [1.66455, 1.72412], "nice": false, "zero": false}, "axis": {"orient": "right", "values": [1.68, 1.72], "tickSize": -5, "labels": false, "title": null}},
      "text": {"field": "label", "type": "nominal"},
      "size": {"field": "fs", "type": "quantitative", "scale": null}}},
    {"data": {"name": "D_red"}, "mark": {"type": "rule", "color": "#ff2020", "strokeWidth": 1.3},
     "encoding": {
      "x": {"field": "t", "type": "quantitative", "scale": {"domain": [22.2, 23.0], "nice": false, "zero": false}, "axis": {"orient": "bottom", "values": [22.3, 22.5, 22.7, 22.9], "tickSize": -3, "labels": false, "title": null}},
      "x2": {"field": "t2"},
      "y": {"field": "v", "type": "quantitative", "scale": {"domain": [1.66455, 1.72412], "nice": false, "zero": false}, "axis": {"orient": "left", "values": [1.7], "tickSize": -3, "labels": false, "title": null}}}},
    {"data": {"name": "D_tri"}, "mark": {"type": "point", "filled": true, "size": 30, "color": "#ff2020", "opacity": 1},
     "encoding": {
      "x": {"field": "t", "type": "quantitative", "scale": {"domain": [22.2, 23.0], "nice": false, "zero": false}, "axis": {"orient": "top", "values": [22.3, 22.5, 22.7, 22.9], "tickSize": -3, "labels": false, "title": null}},
      "y": {"field": "v", "type": "quantitative", "scale": {"domain": [1.66455, 1.72412], "nice": false, "zero": false}, "axis": {"orient": "right", "values": [1.7], "tickSize": -3, "labels": false, "title": null}},
      "shape": {"field": "sh", "type": "nominal", "scale": null}}},
    {"data": {"name": "D_vl"}, "mark": {"type": "rule", "color": "#ff1a1a", "strokeWidth": 2.5, "strokeDash": [8, 4]},
     "encoding": {"x": {"field": "t", "type": "quantitative", "scale": {"domain": [22.2, 23.0], "nice": false, "zero": false}, "axis": null}}},
    {"data": {"name": "D_arr"}, "mark": {"type": "rule", "color": "#222222", "strokeWidth": 1},
     "encoding": {
      "x": {"field": "t", "type": "quantitative", "scale": {"domain": [22.2, 23.0], "nice": false, "zero": false}, "axis": null},
      "y": {"field": "v", "type": "quantitative", "scale": {"domain": [1.66455, 1.72412], "nice": false, "zero": false}, "axis": null},
      "x2": {"field": "t2"}, "y2": {"field": "v2"}}},
    {"data": {"name": "D_arr"}, "mark": {"type": "point", "shape": "triangle-up", "filled": true, "size": 40, "color": "#222222", "opacity": 1},
     "encoding": {
      "x": {"field": "t2", "type": "quantitative", "scale": {"domain": [22.2, 23.0], "nice": false, "zero": false}, "axis": null},
      "y": {"field": "v2", "type": "quantitative", "scale": {"domain": [1.66455, 1.72412], "nice": false, "zero": false}, "axis": null},
      "angle": {"field": "ang", "type": "quantitative", "scale": null}}},
    {"data": {"name": "D_ttl"}, "transform": [{"filter": "datum.it == 0"}], "mark": {"type": "text", "align": "center", "baseline": "middle", "angle": 270, "color": "#1a1a1a"},
     "encoding": {
      "x": {"field": "t", "type": "quantitative", "scale": {"domain": [22.2, 23.0], "nice": false, "zero": false}, "axis": null},
      "y": {"field": "v", "type": "quantitative", "scale": {"domain": [1.66455, 1.72412], "nice": false, "zero": false}, "axis": null},
      "text": {"field": "label", "type": "nominal"},
      "size": {"field": "fs", "type": "quantitative", "scale": null}}},
    {"data": {"name": "D_ttl"}, "transform": [{"filter": "datum.it == 1"}], "mark": {"type": "text", "align": "center", "baseline": "middle", "angle": 270, "fontStyle": "italic", "color": "#1a1a1a"},
     "encoding": {
      "x": {"field": "t", "type": "quantitative", "scale": {"domain": [22.2, 23.0], "nice": false, "zero": false}, "axis": null},
      "y": {"field": "v", "type": "quantitative", "scale": {"domain": [1.66455, 1.72412], "nice": false, "zero": false}, "axis": null},
      "text": {"field": "label", "type": "nominal"},
      "size": {"field": "fs", "type": "quantitative", "scale": null}}}
   ]}
]
}
